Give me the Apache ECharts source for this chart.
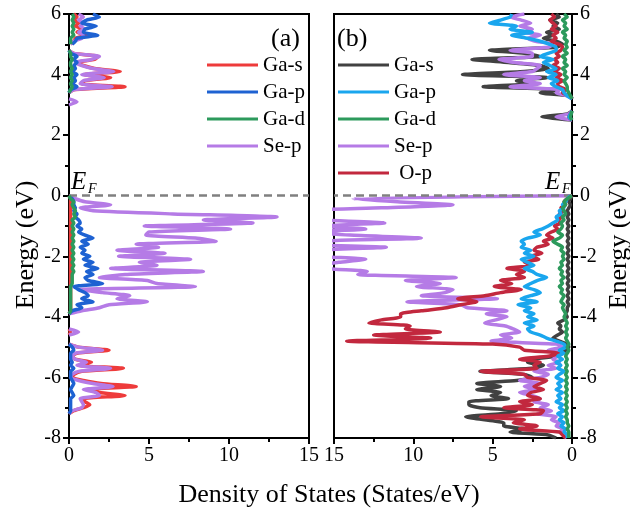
<!DOCTYPE html>
<html>
<head>
<meta charset="utf-8">
<script src="https://cdn.jsdelivr.net/npm/echarts@6/dist/echarts.min.js"></script>
<style>
html,body{margin:0;padding:0;background:#fff;}
#chart{width:630px;height:518px;}
</style>
</head>
<body>
<div id="chart"></div>
<script>
// Energy samples (eV)
const eUpper = [6.0,5.9,5.8,5.7,5.6,5.5,5.4,5.3,5.2,5.1,
                5.0,4.9,4.8,4.7,4.6,4.5,4.4,4.3,4.2,4.1,
                4.0,3.9,3.8,3.7,3.6,3.5,3.4,3.3,3.2,3.1,
                3.0,2.9,2.8,2.7,2.6,2.5];
const eLower = [0.0,-0.1,-0.2,-0.3,-0.4,-0.5,-0.6,-0.7,-0.8,-0.9,
                -1.0,-1.1,-1.2,-1.3,-1.4,-1.5,-1.6,-1.7,-1.8,-1.9,
                -2.0,-2.1,-2.2,-2.3,-2.4,-2.5,-2.6,-2.7,-2.8,-2.9,
                -3.0,-3.1,-3.2,-3.3,-3.4,-3.5,-3.6,-3.7,-3.8,-3.9,
                -4.0,-4.1,-4.2,-4.3,-4.4,-4.5,-4.6,-4.7,-4.8,-4.9,
                -5.0,-5.1,-5.2,-5.3,-5.4,-5.5,-5.6,-5.7,-5.8,-5.9,
                -6.0,-6.1,-6.2,-6.3,-6.4,-6.5,-6.6,-6.7,-6.8,-6.9,
                -7.0,-7.1,-7.2,-7.3,-7.4,-7.5,-7.6,-7.7,-7.8,-7.9,
                -8.0];

// Panel (a) DOS (States/eV); null = no states
const aGaS_up = [0.3,0.5,0.3,0.6,0.4,0.9,0.5,1.1,0.4,0.3,
                 0.1,null,0,0.3,1.8,1.6,0.5,0.9,1.6,3.2,
                 0.9,2.6,1.0,0.8,3.5,0.3,0,null,null,null,
                 null,null,null,null,null,null];
const aGaP_up = [1.5,1.9,1.1,0.8,1.7,1.0,0.9,1.8,0.5,0.4,
                 0.2,null,0,0.1,0.5,0.3,0.5,0.3,0.4,0.2,
                 0.5,0.3,0.4,0.2,0.5,0.1,0,null,null,null,
                 null,null,null,null,null,null];
const aGaD_up = [0.2,0.3,0.2,0.3,0.2,0.3,0.2,0.3,0.1,0.1,
                 0.1,null,0,0.1,0.1,0.2,0.1,0.1,0.2,0.1,
                 0.2,0.1,0.2,0.1,0.2,0.1,0,null,null,null,
                 null,null,null,null,null,null];
const aSeP_up = [0.6,0.9,0.6,0.9,0.7,1.0,0.6,0.9,0.8,0.3,
                 0.1,null,0,0.3,1.9,1.4,0.4,0.8,1.5,2.8,
                 0.8,2.2,0.9,0.7,2.7,0.3,0,null,0,0.5,
                 0,null,null,null,null,null];

const aGaS_lo = [0,0.1,0.1,0.1,0.1,0.1,0.1,0.1,0.1,0.1,
                 0.1,0.1,0.1,0.1,0.1,0.1,0.1,0.1,0.1,0.1,
                 0.1,0.1,0.1,0.1,0.1,0.1,0.1,0.1,0.1,0.1,
                 0.1,0.1,0.1,0.1,0.1,0.1,0.1,0.1,0.1,0,
                 null,null,null,null,0,0.1,0,null,null,0,
                 0.6,2.5,0.5,0.2,0.4,1.4,0.6,3.4,0.8,0.3,
                 0.2,0.9,2.0,4.2,1.2,1.9,3.5,0.9,1.0,1.3,
                 0.9,0.3,0,null,null,null,null,null,null,null,
                 null];
const aGaP_lo = [0,0.2,0.3,0.3,0.4,0.3,0.5,0.4,0.6,0.7,
                 0.5,0.8,0.6,1.0,1.5,0.8,1.2,0.7,1.0,0.8,
                 1.3,0.9,1.5,1.0,1.8,1.1,1.5,1.0,1.2,2.1,
                 0.3,0.6,1.0,1.2,0.8,1.5,0.5,0.8,0.2,0,
                 null,null,null,null,null,null,null,null,null,0,
                 0.2,0.3,0.1,0.1,0.1,0.2,0.1,0.3,0.1,0.1,
                 0.1,0.2,0.3,0.2,0.1,0.2,0.3,0.1,0.1,0.1,
                 0.1,0.1,0,null,null,null,null,null,null,null,
                 null];
const aGaD_lo = [0,0.1,0.3,0.2,0.3,0.4,0.3,0.4,0.2,0.3,
                 0.2,0.3,0.2,0.3,0.2,0.3,0.2,0.3,0.2,0.3,
                 0.2,0.3,0.2,0.3,0.2,0.3,0.2,0.2,0.2,0.2,
                 0.1,0.1,0.1,0.1,0.1,0.1,0.1,0.1,0.1,0,
                 null,null,null,null,null,null,null,null,null,null,
                 null,null,null,null,null,null,null,null,null,null,
                 null,null,null,null,null,null,null,null,null,null,
                 null,null,null,null,null,null,null,null,null,null,
                 null];
const aSeP_lo = [0,0.4,1.0,2.6,0.7,1.5,6.5,13.0,8.4,11.5,
                 4.7,10.1,5.0,4.8,7.9,9.2,4.2,5.6,3.0,6.0,
                 3.1,7.6,4.4,5.5,2.6,8.4,3.5,1.9,4.9,5.5,
                 7.9,0.6,2.1,3.8,3.0,4.9,2.5,1.9,0.8,0,
                 null,null,null,null,0,0.6,0,null,null,0,
                 0.6,2.1,0.4,0.2,0.4,1.1,0.5,2.6,0.6,0.2,
                 0.1,0.6,1.5,2.75,0.9,1.7,1.9,0.7,0.8,0.9,
                 0.8,0.2,0,null,null,null,null,null,null,null,
                 null];

// Panel (b) DOS (States/eV)
const bGaS_up = [1.0,0.8,1.4,0.9,1.2,0.8,1.6,1.2,1.8,1.0,
                 0.6,1.0,5.2,3.0,2.0,6.3,4.0,2.0,1.5,3.0,
                 6.9,1.5,3.5,2.5,5.6,0.8,2.0,0.1,0,null,
                 null,null,0,0.3,1.9,0];
const bGaP_up = [3.8,3.9,4.5,5.2,3.5,3.9,2.5,3.8,2.8,2.0,
                 1.4,1.0,1.0,1.5,2.0,1.2,1.8,1.4,1.0,1.6,
                 1.0,1.5,0.9,1.3,1.0,0.6,0.5,0.3,0,null,
                 null,null,0,0.1,0.2,0];
const bGaD_up = [0.5,0.3,0.6,0.4,0.5,0.3,0.6,0.4,0.5,0.3,
                 0.4,0.3,0.5,0.3,0.6,0.4,0.5,0.3,0.6,0.4,
                 0.5,0.3,0.5,0.4,0.3,0.3,0.2,0.1,0,null,
                 null,null,0,0.05,0.1,0];
const bSeP_up = [3.0,3.9,3.2,2.6,3.3,2.5,3.0,2.0,2.8,2.3,
                 1.2,1.5,3.9,2.5,2.5,4.6,3.6,2.0,2.2,2.5,
                 4.3,2.0,3.0,2.0,3.9,0.8,1.0,0.3,0,null,
                 null,null,0,0.2,1.0,0];
const bOP_up  = [1.3,1.1,1.4,1.2,1.0,1.3,0.9,1.2,1.0,1.3,
                 0.8,0.6,0.7,1.0,0.8,1.1,0.9,1.2,0.8,1.1,
                 0.7,1.0,0.6,0.9,0.8,0.4,0.6,0.2,0,null,
                 null,null,0,0.1,0.2,0];

const bGaS_lo = [0,0.1,0.2,0.1,0.2,0.3,0.2,0.3,0.2,0.3,
                 0.2,0.3,0.2,0.3,0.2,0.3,0.2,0.3,0.2,0.3,
                 0.2,0.3,0.2,0.3,0.2,0.3,0.2,0.3,0.2,0.3,
                 0.2,0.3,0.2,0.3,0.2,0.3,0.2,0.3,0.3,0.4,
                 0.3,0.5,0.9,0.7,0.8,0.6,0.9,1.2,0.8,0.3,
                 0.2,0.4,0.6,1.0,2.6,2.8,1.8,2.5,5.8,3.0,
                 2.5,3.5,6.0,4.5,6.0,4.5,5.1,4.0,6.5,6.5,
                 5.8,3.5,4.5,6.7,5.5,4.3,4.3,3.0,3.9,1.5,
                 1.0];
const bGaP_lo = [0.1,0.3,0.4,0.6,0.5,0.8,0.7,1.0,0.9,1.2,
                 1.5,1.9,2.4,2.0,2.8,3.2,3.0,3.2,2.6,3.0,
                 2.4,3.2,2.8,2.4,3.0,2.5,2.2,1.6,2.2,2.6,
                 3.0,2.4,2.0,2.6,3.2,2.2,3.4,2.6,3.0,2.4,
                 2.8,2.2,3.0,2.4,2.8,2.6,2.0,1.6,1.0,0.5,
                 0.4,0.8,0.5,0.9,0.6,1.0,0.7,0.9,0.5,0.8,
                 1.0,0.6,0.9,0.7,1.0,0.6,0.9,0.7,1.0,0.6,
                 0.8,0.5,0.9,0.6,0.8,0.5,0.7,0.4,0.5,0.3,
                 0.3];
const bGaD_lo = [0,0.3,0.5,0.4,0.6,0.5,0.4,0.6,0.5,0.7,
                 0.6,0.7,0.9,0.6,0.8,1.2,0.9,0.6,0.7,0.5,
                 0.6,0.5,0.7,0.6,0.8,0.6,0.7,0.5,0.7,0.6,
                 0.8,0.6,0.7,0.5,0.6,0.7,0.5,0.6,0.5,0.4,
                 0.5,0.4,0.3,0.4,0.3,0.4,0.3,0.4,0.3,0.2,
                 0.3,0.2,0.3,0.4,0.3,0.4,0.3,0.4,0.3,0.4,
                 0.3,0.4,0.3,0.4,0.3,0.4,0.3,0.4,0.3,0.4,
                 0.3,0.4,0.3,0.4,0.3,0.3,0.2,0.3,0.2,0.2,
                 0.2];
const bSeP_lo = [0,13.8,11.0,7.5,12.0,17.0,16.5,18.0,16.0,11.8,
                 16.0,13.0,16.5,14.0,9.5,16.0,17.0,11.7,16.0,17.0,
                 16.0,13.0,14.7,16.0,15.5,12.9,13.5,7.3,10.5,8.3,
                 9.8,7.5,8.0,9.5,4.7,10.4,7.0,6.6,4.1,5.4,
                 4.1,4.8,5.5,4.2,3.7,3.3,4.5,3.8,5.1,1.0,
                 0.6,1.5,0.7,0.9,1.2,0.8,1.5,1.0,2.4,1.5,
                 2.0,3.3,2.0,3.0,2.2,3.3,2.5,2.0,2.4,1.5,
                 2.0,1.3,2.2,1.0,1.3,0.8,1.0,0.5,0.8,0.3,
                 0.5];
const bOP_lo  = [0,0.3,0.5,0.4,0.7,0.5,0.8,0.6,0.9,0.7,
                 1.1,0.9,1.3,1.6,1.2,1.8,1.5,2.2,2.4,1.9,
                 2.6,2.1,3.0,2.5,4.1,3.0,3.5,3.0,4.5,3.8,
                 4.9,3.2,4.5,5.5,7.2,6.0,7.0,7.9,9.5,10.8,
                 10.8,12.0,12.8,10.2,10.5,8.3,12.5,8.9,14.2,5.0,
                 3.3,3.0,0.8,1.5,3.3,2.0,2.4,2.2,5.75,3.0,
                 2.8,1.6,2.0,2.4,1.8,2.6,2.8,2.0,3.3,2.5,
                 4.3,1.8,2.0,5.75,3.0,3.7,2.2,3.3,0.8,0.6,
                 0.4];

const legendA = ['Ga-s','Ga-p','Ga-d','Se-p'];
const legendB = ['Ga-s','Ga-p','Ga-d','Se-p','O-p'];

const FONT = 'Liberation Serif';

function pts(up, lo, tag) {
  if (up.length !== eUpper.length || lo.length !== eLower.length)
    throw new Error('length mismatch ' + tag + ' ' + up.length + ' ' + lo.length);
  const out = [];
  eUpper.forEach((e, i) => out.push([up[i] == null ? null : up[i], e]));
  out.push([null, 1.0]);
  eLower.forEach((e, i) => out.push([lo[i] == null ? null : lo[i], e]));
  return out;
}

function line(name, color, up, lo, g, z, extra) {
  return Object.assign({
    type: 'line', name: name, xAxisIndex: g, yAxisIndex: g,
    data: pts(up, lo, name), symbol: 'none', showSymbol: false,
    connectNulls: false, smooth: 0.2, z: z, silent: true,
    color: color, lineStyle: { color: color, width: 3.5 }, itemStyle: { color: color }
  }, extra || {});
}

const zeroLine = {
  silent: true, symbol: 'none', label: { show: false },
  lineStyle: { color: '#808080', type: [8, 5], width: 2.5 },
  data: [{ yAxis: 0 }]
};

const C = {
  aGaS: '#EE3B3B', aGaP: '#1E62D2', aGaD: '#2C9A5C', aSeP: '#B57BE6',
  bGaS: '#414141', bGaP: '#1AA6EE', bGaD: '#2C9A5C', bSeP: '#B57BE6', bOP: '#C2283E'
};

const series = [
  line('Ga-s', C.aGaS, aGaS_up, aGaS_lo, 0, 2, { markLine: zeroLine }),
  line('Se-p', C.aSeP, aSeP_up, aSeP_lo, 0, 3),
  line('Ga-p', C.aGaP, aGaP_up, aGaP_lo, 0, 4),
  line('Ga-d', C.aGaD, aGaD_up, aGaD_lo, 0, 5),
  line('Ga-s (b)', C.bGaS, bGaS_up, bGaS_lo, 1, 2, { markLine: zeroLine }),
  line('Se-p (b)', C.bSeP, bSeP_up, bSeP_lo, 1, 3),
  line('O-p (b)', C.bOP, bOP_up, bOP_lo, 1, 4),
  line('Ga-p (b)', C.bGaP, bGaP_up, bGaP_lo, 1, 5),
  line('Ga-d (b)', C.bGaD, bGaD_up, bGaD_lo, 1, 6)
];

const axisCommon = {
  type: 'value',
  axisLine: { show: true, onZero: false, lineStyle: { color: '#000', width: 2 } },
  axisTick: { show: true, inside: false, length: 6, lineStyle: { color: '#000', width: 2 } },
  minorTick: { show: true, splitNumber: 2, length: 4, lineStyle: { color: '#000', width: 2 } },
  splitLine: { show: false },
  minorSplitLine: { show: false },
  axisLabel: { color: '#000', fontFamily: FONT, fontSize: 20, margin: 8 }
};

function ax(extra) { return Object.assign({}, JSON.parse(JSON.stringify(axisCommon)), extra); }

const legendBase = {
  orient: 'vertical', top: 54, padding: 0, icon: 'rect', itemWidth: 51, itemHeight: 3, itemGap: 5,
  selectedMode: false,
  textStyle: { color: '#000', fontFamily: FONT, fontSize: 21, lineHeight: 22 }
};

const option = {
  animation: false,
  backgroundColor: '#fff',
  textStyle: { fontFamily: FONT },
  grid: [
    { left: 69, top: 14, width: 240, height: 424, show: true, borderColor: '#000', borderWidth: 2 },
    { left: 334, top: 14, width: 238, height: 424, show: true, borderColor: '#000', borderWidth: 2 }
  ],
  xAxis: [
    ax({ gridIndex: 0, min: 0, max: 15, interval: 5, position: 'bottom' }),
    ax({ gridIndex: 1, min: 0, max: 15, interval: 5, position: 'bottom', inverse: true })
  ],
  yAxis: [
    ax({ gridIndex: 0, min: -8, max: 6, interval: 2, position: 'left' }),
    ax({ gridIndex: 1, min: -8, max: 6, interval: 2, position: 'right' })
  ],
  legend: [
    Object.assign({}, legendBase, { left: 207, data: legendA }),
    Object.assign({}, legendBase, {
      left: 338, data: legendB.map(n => n + ' (b)'),
      formatter: n => n === 'O-p (b)' ? ' O-p' : n.replace(' (b)', '')
    })
  ],
  graphic: [
    { type: 'text', x: 271, y: 39, style: { text: '(a)', font: '26px "Liberation Serif"', fill: '#000', textAlign: 'left', textVerticalAlign: 'middle' } },
    { type: 'text', x: 337, y: 39, style: { text: '(b)', font: '26px "Liberation Serif"', fill: '#000', textAlign: 'left', textVerticalAlign: 'middle' } },
    { type: 'text', x: 71, y: 182, style: { text: 'E', font: 'italic 25px "Liberation Serif"', fill: '#000', textAlign: 'left', textVerticalAlign: 'middle' } },
    { type: 'text', x: 88, y: 189, style: { text: 'F', font: 'italic 14px "Liberation Serif"', fill: '#000', textAlign: 'left', textVerticalAlign: 'middle' } },
    { type: 'text', x: 545, y: 182, style: { text: 'E', font: 'italic 25px "Liberation Serif"', fill: '#000', textAlign: 'left', textVerticalAlign: 'middle' } },
    { type: 'text', x: 562, y: 189, style: { text: 'F', font: 'italic 14px "Liberation Serif"', fill: '#000', textAlign: 'left', textVerticalAlign: 'middle' } },
    { type: 'text', x: 26, y: 245, rotation: Math.PI / 2, style: { text: 'Energy (eV)', font: '26px "Liberation Serif"', fill: '#000', textAlign: 'center', textVerticalAlign: 'middle' } },
    { type: 'text', x: 619, y: 245, rotation: Math.PI / 2, style: { text: 'Energy (eV)', font: '26px "Liberation Serif"', fill: '#000', textAlign: 'center', textVerticalAlign: 'middle' } },
    { type: 'text', x: 329, y: 495, style: { text: 'Density of States (States/eV)', font: '26px "Liberation Serif"', fill: '#000', textAlign: 'center', textVerticalAlign: 'middle' } }
  ],
  series: series
};

const chart = echarts.init(document.getElementById('chart'), null, { renderer: 'canvas' });
chart.setOption(option);
</script>
</body>
</html>
